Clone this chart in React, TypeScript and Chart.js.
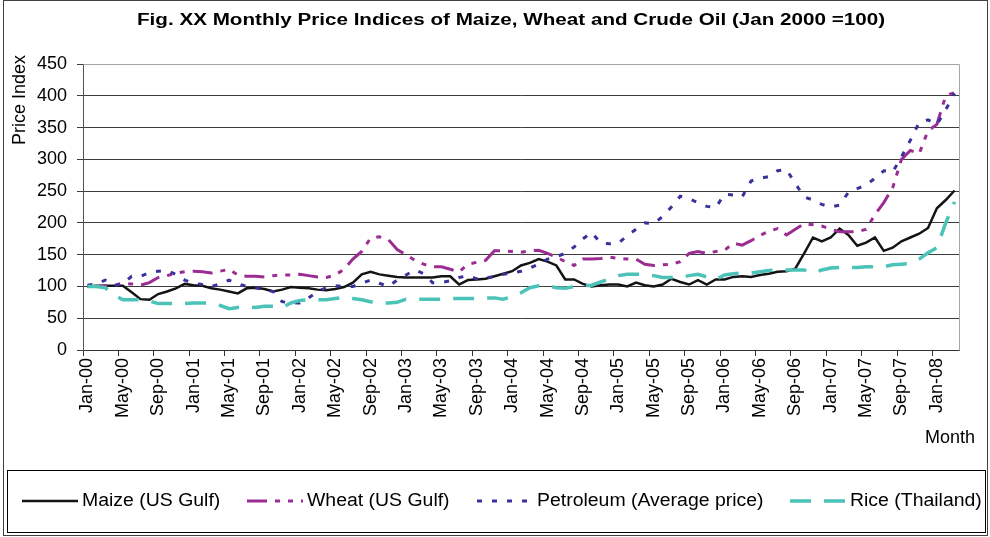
import React, { useEffect, useRef } from 'react';
import { Chart, registerables } from 'chart.js';

Chart.register(...registerables);

// ---------- data ----------
const MONTH_NAMES = ['Jan', 'Feb', 'Mar', 'Apr', 'May', 'Jun', 'Jul', 'Aug', 'Sep', 'Oct', 'Nov', 'Dec'];
const YEARS = ['00', '01', '02', '03', '04', '05', '06', '07', '08'];
const categories: string[] = [];
YEARS.forEach((y) => MONTH_NAMES.forEach((m) => categories.push(`${m}-${y}`)));
categories.splice(99); // Jan-00 .. Mar-08

const xTickLabels = [
  'Jan-00', 'May-00', 'Sep-00', 'Jan-01', 'May-01', 'Sep-01', 'Jan-02', 'May-02', 'Sep-02',
  'Jan-03', 'May-03', 'Sep-03', 'Jan-04', 'May-04', 'Sep-04', 'Jan-05', 'May-05', 'Sep-05',
  'Jan-06', 'May-06', 'Sep-06', 'Jan-07', 'May-07', 'Sep-07', 'Jan-08',
];

const yTicks = [0, 50, 100, 150, 200, 250, 300, 350, 400, 450];

const maize = [
  100, 101, 101, 101, 101, 91, 80, 79, 88, 92,
  97, 104, 102, 101, 97, 95, 92, 89, 97, 98,
  96, 92, 95, 99, 98, 97, 95, 94, 96, 99,
  106, 119, 123, 119, 117, 115, 114, 114, 114, 114,
  116, 116, 103, 110, 111, 112, 116, 120, 124, 133,
  137, 143, 139, 133, 111, 111, 104, 100, 102, 103,
  103, 100, 106, 102, 100, 103, 112, 107, 103, 110,
  103, 111, 111, 115, 116, 115, 118, 120, 123, 124,
  128, 152, 177, 171, 177, 191, 181, 164, 169, 177,
  156, 161, 171, 177, 183, 192, 223, 236, 251,
];

const wheat = [
  100, 100, 101, 102, 105, 104, 102, 106, 114, 117,
  121, 123, 124, 123, 121, 124, 127, 118, 116, 116,
  115, 117, 118, 118, 119, 117, 115, 114, 118, 127,
  143, 155, 176, 178, 174, 158, 150, 141, 135, 131,
  131, 127, 123, 135, 138, 141, 156, 156, 155, 154,
  156, 157, 152, 146, 139, 133, 143, 143, 144, 146,
  144, 143, 143, 135, 133, 134, 135, 139, 152, 155,
  152, 155, 157, 168, 165, 172, 180, 187, 191, 181,
  190, 199, 197, 195, 190, 186, 186, 186, 190, 213,
  232, 255, 300, 314, 309, 345, 355, 400, 405,
];

const petroleum = [
  102, 104, 110, 101, 104, 116, 116, 122, 124, 125,
  119, 110, 105, 103, 100, 104, 110, 104, 100, 98,
  95, 92, 76, 74, 74, 82, 92, 98, 101, 100,
  100, 105, 110, 105, 100, 110, 118, 126, 120, 106,
  106, 109, 114, 117, 112, 113, 116, 119, 121, 124,
  129, 135, 143, 147, 152, 162, 175, 185, 168, 167,
  168, 180, 190, 200, 199, 210, 225, 242, 238, 232,
  226, 224, 245, 244, 241, 266, 270, 273, 282, 284,
  262, 241, 236, 229, 225, 228, 248, 254, 260, 270,
  282, 280, 304, 330, 358, 362, 355, 378, 404,
];

const rice = [
  100, 100, 98, 87, 79, 79, 79, 77, 73, 73,
  73, 73, 74, 74, 74, 70, 65, 67, 68, 67,
  69, 69, 67, 74, 78, 79, 79, 79, 81, 83,
  81, 79, 76, 74, 74, 75, 80, 80, 80, 80,
  80, 81, 81, 81, 81, 82, 82, 80, 84, 90,
  98, 101, 101, 98, 97, 100, 101, 102, 107, 112,
  117, 119, 119, 119, 117, 114, 114, 114, 117, 119,
  115, 111, 118, 120, 121, 121, 123, 125, 126, 126,
  126, 126, 121, 126, 129, 130, 130, 130, 131, 131,
  131, 134, 135, 136, 143, 153, 161, 200, 233,
];

const seriesNames = ['Maize (US Gulf)', 'Wheat (US Gulf)', 'Petroleum (Average price)', 'Rice (Thailand)'];

const TITLE = 'Fig. XX Monthly Price Indices of Maize, Wheat and Crude Oil (Jan 2000 =100)';
const Y_TITLE = 'Price Index';
const X_TITLE = 'Month';

const FONT = '"Liberation Sans", Arial, Helvetica, sans-serif';

function drawStretched(ctx: CanvasRenderingContext2D, text: string, x: number, y: number, sx: number, align: CanvasTextAlign) {
  ctx.save();
  ctx.translate(x, y);
  ctx.scale(sx, 1);
  ctx.textAlign = align;
  ctx.fillText(text, 0, 0);
  ctx.restore();
}

const decorPlugin = {
  id: 'decor',
  beforeDraw(chart: any) {
    const ctx = chart.ctx as CanvasRenderingContext2D;
    ctx.save();
    ctx.fillStyle = '#ffffff';
    ctx.fillRect(0, 0, chart.width, chart.height);
    ctx.restore();
  },
  beforeDatasetsDraw(chart: any) {
    const ctx = chart.ctx as CanvasRenderingContext2D;
    const a = chart.chartArea;
    ctx.save();
    ctx.strokeStyle = '#a6a6a6';
    ctx.lineWidth = 1;
    ctx.beginPath();
    ctx.moveTo(Math.round(a.left) + 0.5, Math.round(a.top) + 0.5);
    ctx.lineTo(Math.round(a.right) + 0.5, Math.round(a.top) + 0.5);
    ctx.lineTo(Math.round(a.right) + 0.5, Math.round(a.bottom) + 0.5);
    ctx.stroke();
    ctx.restore();
  },
  afterDraw(chart: any) {
    const ctx = chart.ctx as CanvasRenderingContext2D;
    ctx.save();
    ctx.fillStyle = '#000000';
    ctx.textBaseline = 'middle';

    // title
    ctx.font = `bold 16px ${FONT}`;
    const tw = ctx.measureText(TITLE).width;
    drawStretched(ctx, TITLE, 511, 21, 748 / tw, 'center');

    // y title (rotated)
    ctx.font = `18px ${FONT}`;
    ctx.save();
    ctx.translate(20, 100);
    ctx.rotate(-Math.PI / 2);
    ctx.textAlign = 'center';
    ctx.fillText(Y_TITLE, 0, 0);
    ctx.restore();

    // x title
    ctx.font = `18px ${FONT}`;
    drawStretched(ctx, X_TITLE, 975, 438, 1.0, 'right');

    // legend box
    ctx.strokeStyle = '#000000';
    ctx.lineWidth = 1;
    ctx.strokeRect(7.5, 470.5, 978, 62);

    // legend items
    const starts = [22, 247, 477, 790];
    const sampleW = 56;
    const ly = 501;
    chart.data.datasets.forEach((ds: any, i: number) => {
      const sx = starts[i];
      ctx.save();
      ctx.strokeStyle = ds.borderColor;
      ctx.lineWidth = ds.borderWidth;
      ctx.setLineDash(ds.borderDash || []);
      ctx.lineCap = 'butt';
      ctx.beginPath();
      ctx.moveTo(sx, ly);
      ctx.lineTo(sx + sampleW, ly);
      ctx.stroke();
      ctx.restore();
      ctx.font = `18px ${FONT}`;
      ctx.fillStyle = '#000000';
      drawStretched(ctx, ds.label, sx + sampleW + 4, ly, 1.08, 'left');
    });

    // outer frame
    ctx.strokeStyle = '#404040';
    ctx.lineWidth = 1;
    ctx.strokeRect(3.5, 0.5, 984, 535);
    ctx.restore();
  },
};

export default function App() {
  const canvasRef = useRef<HTMLCanvasElement | null>(null);

  useEffect(() => {
    document.body.style.margin = '0';
    const canvas = canvasRef.current;
    if (!canvas) return;
    Chart.defaults.font.family = FONT;

    const chart = new Chart(canvas, {
      type: 'line',
      data: {
        labels: categories,
        datasets: [
          {
            label: seriesNames[0],
            data: maize,
            borderColor: '#141414',
            borderWidth: 2.5,
            borderDash: [],
            pointRadius: 0,
            tension: 0,
            fill: false,
            order: 4,
          },
          {
            label: seriesNames[1],
            data: wheat,
            borderColor: '#9b2c93',
            borderWidth: 3,
            borderDash: [20, 8, 5, 8, 5, 8],
            pointRadius: 0,
            tension: 0,
            fill: false,
            order: 3,
          },
          {
            label: seriesNames[2],
            data: petroleum,
            borderColor: '#37339a',
            borderWidth: 3,
            borderDash: [5, 10],
            pointRadius: 0,
            tension: 0,
            fill: false,
            order: 2,
          },
          {
            label: seriesNames[3],
            data: rice,
            borderColor: '#4cc3b8',
            borderWidth: 3.5,
            borderDash: [21, 13],
            pointRadius: 0,
            tension: 0,
            fill: false,
            order: 1,
          },
        ],
      },
      options: {
        responsive: false,
        animation: false,
        devicePixelRatio: 1,
        layout: { padding: { top: 64, right: 31, left: 0, bottom: 0 } },
        plugins: {
          legend: { display: false },
          title: { display: false },
          tooltip: { enabled: false },
        },
        scales: {
          x: {
            type: 'category',
            offset: true,
            grid: {
              offset: true,
              drawOnChartArea: false,
              drawTicks: true,
              tickLength: 6,
              color: (c: any) => (c.index % 4 === 0 && c.index < categories.length ? '#333333' : 'rgba(0,0,0,0)'),
              lineWidth: 1,
            },
            border: { display: true, color: '#333333', width: 1 },
            ticks: {
              autoSkip: false,
              maxRotation: 90,
              minRotation: 90,
              padding: 2,
              color: '#000000',
              font: { size: 18, family: FONT },
              callback: (_v: any, i: number) => (xTickLabels.includes(categories[i]) ? categories[i] : ''),
            },
            afterFit: (scale: any) => {
              scale.height = 187;
            },
          },
          y: {
            min: 0,
            max: 450,
            afterBuildTicks: (scale: any) => {
              scale.ticks = yTicks.map((v) => ({ value: v }));
            },
            grid: {
              color: (c: any) => (c.tick && c.tick.value === 450 ? '#a6a6a6' : '#3c3c3c'),
              tickColor: '#3c3c3c',
              lineWidth: 1,
              drawTicks: true,
              tickLength: 6,
            },
            border: { display: true, color: '#555555', width: 1 },
            ticks: {
              padding: 10,
              color: '#000000',
              font: { size: 18, family: FONT },
            },
            afterFit: (scale: any) => {
              scale.width = 83;
            },
          },
        },
      },
      plugins: [decorPlugin],
    });

    return () => {
      chart.destroy();
    };
  }, []);

  return (
    <div style={{ position: 'absolute', left: 0, top: 0, width: 990, height: 537 }}>
      <canvas ref={canvasRef} width={990} height={537} style={{ display: 'block', width: 990, height: 537 }} />
    </div>
  );
}
